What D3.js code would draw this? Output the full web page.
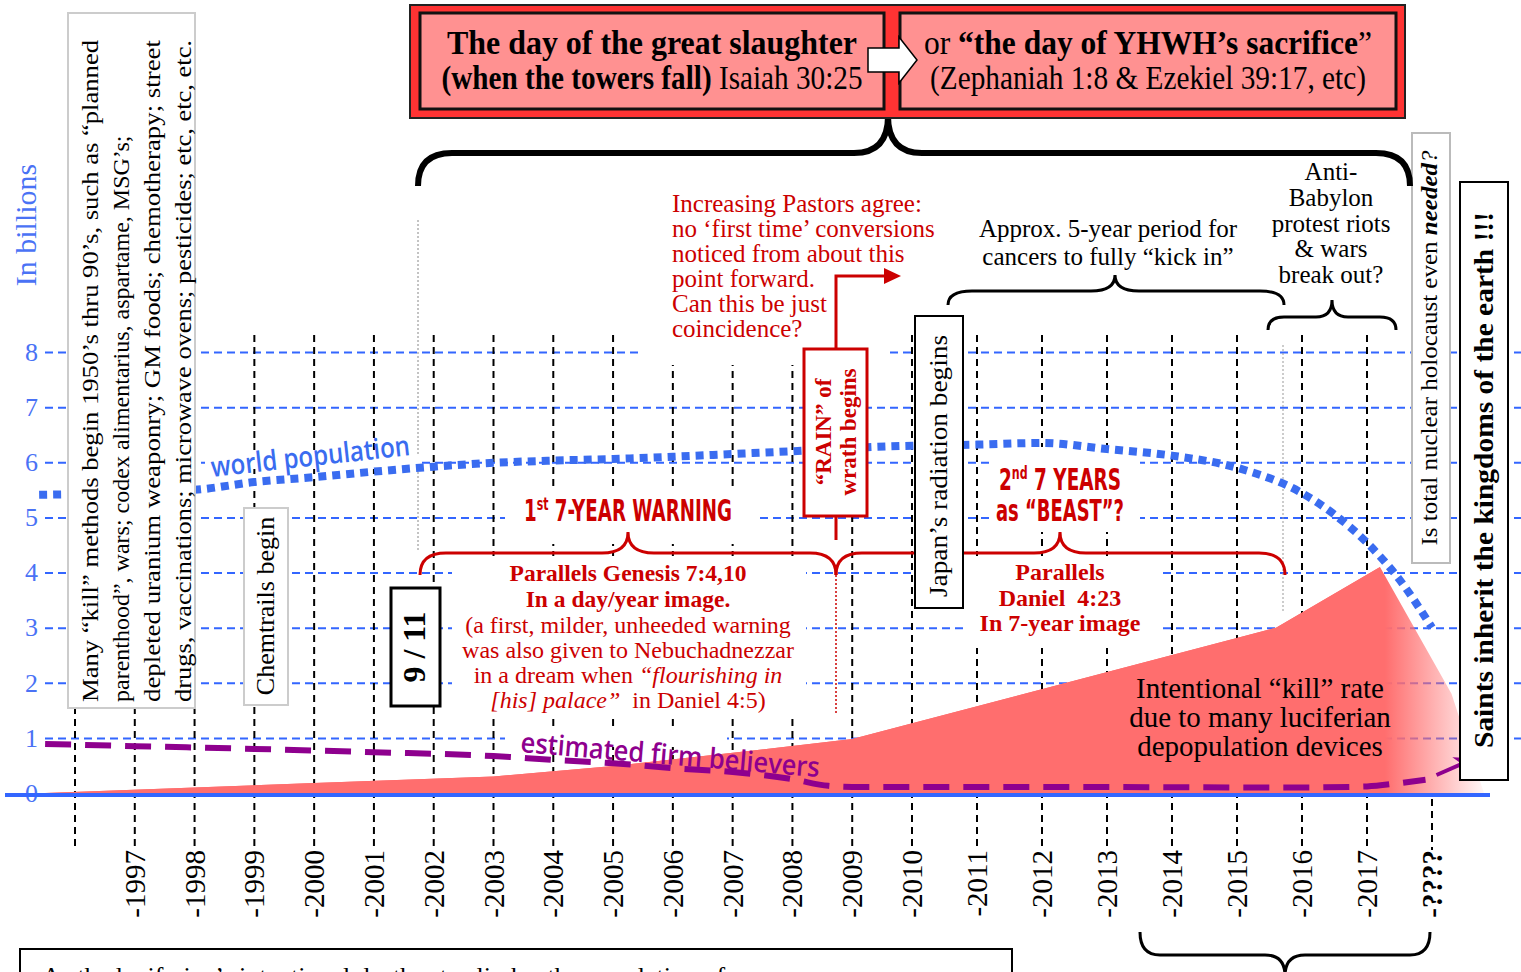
<!DOCTYPE html>
<html>
<head>
<meta charset="utf-8">
<script src="https://cdn.jsdelivr.net/npm/d3@7"></script>
<style>
  body { margin: 0; background: #fff; }
  svg { display: block; font-family: "Liberation Serif", "Times New Roman", serif; }
</style>
</head>
<body>
<div id="chart"></div>
<script>
// ---- data ----
const yearTicks = [1996, 1997, 1998, 1999, 2000, 2001, 2002, 2003, 2004, 2005, 2006, 2007,
  2008, 2009, 2010, 2011, 2012, 2013, 2014, 2015, 2016, 2017, 2018];
const yearLabels = ["", "1997", "1998", "1999", "2000", "2001", "2002", "2003", "2004", "2005", "2006", "2007",
  "2008", "2009", "2010", "2011", "2012", "2013", "2014", "2015", "2016", "2017", "????"];
const valueTicks = [0, 1, 2, 3, 4, 5, 6, 7, 8];

// world population (billions)
const popYears = [1995.4, 1998, 1999, 2000, 2001, 2002, 2003, 2004, 2005, 2006, 2007, 2008, 2009,
  2010, 2011, 2012, 2013, 2014, 2015, 2016, 2016.5, 2017, 2017.5, 2018];
const popValues = [5.41, 5.5, 5.64, 5.73, 5.83, 5.92, 5.99, 6.03, 6.06, 6.1, 6.15, 6.2, 6.26,
  6.3, 6.32, 6.35, 6.24, 6.12, 5.9, 5.44, 5.05, 4.54, 3.87, 3.0];

// estimated firm believers (billions)
const believerYears = [1995.5, 1997, 1999, 2001, 2003, 2004, 2005, 2006, 2007, 2008, 2008.6, 2009,
  2012, 2016, 2017, 2017.5, 2017.9];
const believerValues = [0.89, 0.85, 0.8, 0.74, 0.67, 0.6, 0.54, 0.45, 0.38, 0.25, 0.13, 0.11,
  0.11, 0.1, 0.12, 0.18, 0.24];
const believerArrow = [[2017.9, 0.24], [2018.6, 0.6]];

// intentional "kill" rate (billions)
const killYears = [1995.5, 2000, 2003, 2005, 2007, 2009, 2015.6, 2017.2, 2018.3, 2018.8];
const killValues = [0, 0.18, 0.3, 0.49, 0.73, 0.98, 3.0, 4.1, 1.8, 0];

// ---- setup ----
const W = 1521, H = 972;
const BLUE = "#3366ff", RED = "#cc0000", PURPLE = "#8e008e";
const SANS = "'Open Sans', 'DejaVu Sans', sans-serif";
const NARROW = "'Liberation Sans Narrow', 'DejaVu Sans Condensed', sans-serif";

const svg = d3.select("#chart").append("svg").attr("width", W).attr("height", H);

const x = d3.scaleLinear().domain([1996, 2010, 2018]).range([75, 912, 1432]);
const y = d3.scaleLinear().domain([0, 8]).range([793, 352]);

const defs = svg.append("defs");
const grad = defs.append("linearGradient").attr("id", "killFade")
  .attr("gradientUnits", "userSpaceOnUse")
  .attr("x1", 1385).attr("x2", 1490).attr("y1", 0).attr("y2", 0);
grad.append("stop").attr("offset", 0).attr("stop-color", "#ff6e6e").attr("stop-opacity", 1);
grad.append("stop").attr("offset", 1).attr("stop-color", "#ff6e6e").attr("stop-opacity", 0);
defs.append("marker").attr("id", "purpleHead")
  .attr("viewBox", "0 0 10 10").attr("refX", 8).attr("refY", 5)
  .attr("markerWidth", 5).attr("markerHeight", 5).attr("orient", "auto")
  .append("path").attr("d", "M0,0 L10,5 L0,10 L3,5 Z").attr("fill", PURPLE);

function whiteRect(x0, y0, w, h) {
  svg.append("rect").attr("x", x0).attr("y", y0).attr("width", w).attr("height", h).attr("fill", "#fff");
}
function box(x0, y0, w, h, stroke, sw) {
  svg.append("rect").attr("x", x0).attr("y", y0).attr("width", w).attr("height", h)
    .attr("fill", "#fff").attr("stroke", stroke).attr("stroke-width", sw);
}
// vertical text, reading bottom to top
function vtext(cx, cy, fs, str, opts = {}) {
  const t = svg.append("text")
    .attr("transform", `translate(${cx + fs * 0.34},${cy}) rotate(-90)`)
    .attr("text-anchor", opts.anchor || "middle")
    .attr("font-size", fs)
    .attr("fill", opts.fill || "#000")
    .attr("font-weight", opts.bold ? "bold" : null);
  if (opts.len) t.attr("textLength", opts.len).attr("lengthAdjust", "spacingAndGlyphs");
  if (str) t.text(str);
  return t;
}
function lines(cx, y0, dy, fs, arr, opts = {}) {
  arr.forEach((s, i) => {
    svg.append("text").attr("x", cx).attr("y", y0 + i * dy)
      .attr("text-anchor", opts.anchor || "middle").attr("font-size", fs)
      .attr("fill", opts.fill || "#000")
      .attr("font-weight", opts.bold ? "bold" : null)
      .text(s);
  });
}
// curly brace; tip toward yTip
function brace(x1, x2, xm, yEnd, yMid, yTip, r, color, sw) {
  const d = `M${x1},${yEnd} Q${x1},${yMid} ${x1 + r},${yMid} L${xm - r},${yMid} Q${xm},${yMid} ${xm},${yTip}` +
    ` Q${xm},${yMid} ${xm + r},${yMid} L${x2 - r},${yMid} Q${x2},${yMid} ${x2},${yEnd}`;
  svg.append("path").attr("d", d).attr("fill", "none").attr("stroke", color).attr("stroke-width", sw);
}

// ---- grid ----
svg.append("g").attr("transform", "translate(45,0)")
  .call(d3.axisLeft(y).tickValues(valueTicks.slice(1)).tickSize(-(W - 45)).tickFormat(""))
  .call(g => g.select(".domain").remove())
  .selectAll("line").attr("stroke", BLUE).attr("stroke-width", 2).attr("stroke-dasharray", "8,5");

svg.append("g").attr("transform", "translate(38,0)")
  .call(d3.axisLeft(y).tickValues(valueTicks).tickSize(0).tickPadding(0))
  .call(g => g.select(".domain").remove())
  .call(g => g.attr("font-family", null).attr("font-size", 26))
  .selectAll("text").attr("fill", "#4a72f5");

const ticks = yearTicks.map((d, i) => ({ year: d, label: yearLabels[i] }));
svg.append("g").selectAll("line").data(ticks).join("line")
  .attr("x1", d => x(d.year)).attr("x2", d => x(d.year))
  .attr("y1", d => d.label === "????" ? y(0) + 6 : 335)
  .attr("y2", 850)
  .attr("stroke", "#000").attr("stroke-width", 2).attr("stroke-dasharray", "7,5");

svg.append("g").selectAll("text").data(ticks.filter(d => d.label)).join("text")
  .attr("transform", d => `translate(${x(d.year) + 10},850) rotate(-90)`)
  .attr("text-anchor", "end")
  .attr("font-size", 29)
  .attr("font-weight", d => d.label === "????" ? "bold" : null)
  .text(d => "-" + d.label);

// thin dotted markers
svg.append("line").attr("x1", 418).attr("x2", 418).attr("y1", 220).attr("y2", 550)
  .attr("stroke", "#888").attr("stroke-width", 1).attr("stroke-dasharray", "2,2");
svg.append("line").attr("x1", 1283).attr("x2", 1283).attr("y1", 345).attr("y2", 612)
  .attr("stroke", "#999").attr("stroke-width", 1).attr("stroke-dasharray", "2,2");

// white gaps behind annotations
whiteRect(640, 185, 245, 180);   // pastors note
whiteRect(505, 488, 252, 56);    // 1st 7-year warning
whiteRect(452, 556, 354, 160);   // Genesis note
whiteRect(965, 556, 195, 92);    // Daniel note
whiteRect(990, 447, 150, 85);    // 2nd 7 years
whiteRect(205, 455, 215, 14);    // world population label
whiteRect(505, 729, 222, 18);    // believers label

svg.append("line").attr("x1", 836).attr("x2", 836).attr("y1", 575).attr("y2", 715)
  .attr("stroke", RED).attr("stroke-width", 1.5).attr("stroke-dasharray", "2,2");

// ---- kill-rate area ----
const killData = killYears.map((d, i) => [d, killValues[i]]);
const killArea = d3.area().x(d => x(d[0])).y0(y(0)).y1(d => y(d[1]));
svg.append("path").datum(killData).attr("d", killArea).attr("fill", "url(#killFade)");
svg.append("path").datum(killData.filter(d => d[0] <= 2017.2).concat([[2017.2, 0]]))
  .attr("d", killArea).attr("fill", "#ff6e6e");

// baseline
svg.append("line").attr("x1", 5).attr("x2", 1490).attr("y1", y(0) + 2).attr("y2", y(0) + 2)
  .attr("stroke", BLUE).attr("stroke-width", 4);

// ---- world population ----
const popData = popYears.map((d, i) => [d, popValues[i]]);
svg.append("path").datum(popData)
  .attr("d", d3.line().x(d => x(d[0])).y(d => y(d[1])).curve(d3.curveMonotoneX))
  .attr("fill", "none").attr("stroke", "#3a6cf0").attr("stroke-width", 8)
  .attr("stroke-dasharray", "8,6");

// ---- believers ----
const belData = believerYears.map((d, i) => [d, believerValues[i]]);
svg.append("path").datum(belData)
  .attr("d", d3.line().x(d => x(d[0])).y(d => y(d[1])).curve(d3.curveMonotoneX))
  .attr("fill", "none").attr("stroke", PURPLE).attr("stroke-width", 6)
  .attr("stroke-dasharray", "26,14");
svg.append("path").datum(believerArrow)
  .attr("d", d3.line().x(d => x(d[0])).y(d => y(d[1])))
  .attr("fill", "none").attr("stroke", PURPLE).attr("stroke-width", 4)
  .attr("stroke-dasharray", "0,12,30")
  .attr("marker-end", "url(#purpleHead)");

// ---- series labels ----
svg.append("text").attr("transform", "translate(212,477) rotate(-6.3)")
  .style("font-family", SANS).attr("font-weight", 600)
  .attr("font-size", 28).attr("fill", "#3a6cf0")
  .attr("textLength", 200).attr("lengthAdjust", "spacingAndGlyphs")
  .text("world population");
svg.append("text").attr("transform", "translate(520,752) rotate(4.8)")
  .style("font-family", SANS).attr("font-weight", 600)
  .attr("font-size", 28).attr("fill", PURPLE)
  .attr("textLength", 300).attr("lengthAdjust", "spacingAndGlyphs")
  .text("estimated firm believers");

lines(1260, 698, 29, 29, ["Intentional \u201ckill\u201d rate", "due to many luciferian", "depopulation devices"]);

// ---- red braces (behind boxes) ----
brace(420, 836, 628, 575, 553, 532, 26, RED, 3);
brace(836, 1285, 1060, 575, 553, 532, 26, RED, 3);

// ---- boxes with vertical text ----
box(68, 13, 127, 695, "#cccccc", 2);
const leftLines = [
  ["Many \u201ckill\u201d methods begin 1950\u2019s thru 90\u2019s, such as \u201cplanned", 662],
  ["parenthood\u201d, wars; codex alimentarius, aspartame, MSG\u2019s;", 0],
  ["depleted uranium weaponry; GM foods; chemotherapy;  street", 662],
  ["drugs, vaccinations; microwave ovens; pesticides; etc, etc, etc.", 662]
];
leftLines.forEach((l, i) => {
  vtext(90 + i * 31, 702, 24, l[0], { anchor: "start", len: l[1] || null });
});

box(244, 508, 44, 197, "#cccccc", 2);
vtext(265, 606, 26, "Chemtrails begin");

box(391, 588, 49, 118, "#000", 3);
vtext(414, 647, 32, "9 / 11", { bold: true });

// pastors arrow
svg.append("path").attr("d", "M836,540 L836,276 L886,276")
  .attr("fill", "none").attr("stroke", RED).attr("stroke-width", 3);
svg.append("path").attr("d", "M884,268 L901,276 L884,284 Z").attr("fill", RED);

box(804, 349, 63, 167, RED, 3);
vtext(823, 432, 23, "\u201cRAIN\u201d of", { bold: true, fill: RED });
vtext(848, 432, 23, "wrath begins", { bold: true, fill: RED });

box(915, 316, 48, 292, "#000", 2);
vtext(938, 466, 26, "Japan\u2019s  radiation begins", { len: 262 });

box(1412, 133, 38, 430, "#bbbbbb", 2);
const nuc = vtext(1429, 348, 23, null, { len: 395 });
nuc.append("tspan").text("Is total nuclear holocaust even ");
nuc.append("tspan").attr("font-weight", "bold").attr("font-style", "italic").text("needed");
nuc.append("tspan").attr("font-style", "italic").text("?");

box(1460, 182, 48, 598, "#000", 2);
vtext(1483, 480, 28, "Saints inherit the kingdoms of the earth !!!", { bold: true, len: 536 });

// ---- red annotations ----
lines(672, 212, 25, 25, [
  "Increasing Pastors agree:",
  "no \u2018first time\u2019 conversions",
  "noticed from about this",
  "point forward.",
  "Can this be just",
  "coincidence?"
], { anchor: "start", fill: RED });

const w1 = svg.append("text").attr("x", 628).attr("y", 521).attr("text-anchor", "middle")
  .style("font-family", NARROW).attr("font-weight", "bold").attr("font-size", 30).attr("fill", RED)
  .attr("textLength", 208).attr("lengthAdjust", "spacingAndGlyphs");
w1.append("tspan").text("1");
w1.append("tspan").attr("font-size", 18).attr("dy", -11).text("st");
w1.append("tspan").attr("dy", 11).text(" 7-YEAR WARNING");

const w2 = svg.append("text").attr("x", 1060).attr("y", 490).attr("text-anchor", "middle")
  .style("font-family", NARROW).attr("font-weight", "bold").attr("font-size", 30).attr("fill", RED)
  .attr("textLength", 122).attr("lengthAdjust", "spacingAndGlyphs");
w2.append("tspan").text("2");
w2.append("tspan").attr("font-size", 18).attr("dy", -11).text("nd");
w2.append("tspan").attr("dy", 11).text(" 7 YEARS");
svg.append("text").attr("x", 1060).attr("y", 521).attr("text-anchor", "middle")
  .style("font-family", NARROW).attr("font-weight", "bold").attr("font-size", 30).attr("fill", RED)
  .attr("textLength", 128).attr("lengthAdjust", "spacingAndGlyphs")
  .text("as \u201cBEAST\u201d?");

lines(628, 581, 25.5, 23.5, ["Parallels Genesis 7:4,10", "In a day/year image."], { bold: true, fill: RED });
lines(628, 633, 25, 24, ["(a first, milder, unheeded warning", "was also given to Nebuchadnezzar"], { fill: RED });
const g5 = svg.append("text").attr("x", 628).attr("y", 683).attr("text-anchor", "middle")
  .attr("font-size", 24).attr("fill", RED);
g5.append("tspan").text("in a dream when ");
g5.append("tspan").attr("font-style", "italic").text("\u201cflourishing in");
const g6 = svg.append("text").attr("x", 628).attr("y", 708).attr("text-anchor", "middle")
  .attr("font-size", 24).attr("fill", RED);
g6.append("tspan").attr("font-style", "italic").text("[his] palace\u201d");
g6.append("tspan").text("\u00a0 in Daniel 4:5)");

lines(1060, 580, 25.5, 24, ["Parallels", "Daniel\u00a0 4:23", "In 7-year image"], { bold: true, fill: RED });

// ---- black annotations ----
lines(1108, 237, 28, 25, ["Approx. 5-year period for", "cancers to fully \u201ckick in\u201d"]);
brace(948, 1284, 1115, 305, 291, 275, 24, "#000", 3);

lines(1331, 180, 25.8, 25, ["Anti-", "Babylon", "protest riots", "& wars", "break out?"]);
brace(1268, 1396, 1332, 330, 317, 300, 16, "#000", 3);

brace(1140, 1430, 1285, 932, 955, 976, 20, "#000", 3);

// y title
vtext(26, 225, 30, "In billions", { fill: "#4a72f5" });

// bottom text box
svg.append("rect").attr("x", 20).attr("y", 949).attr("width", 992).attr("height", 60)
  .attr("fill", "#fff").attr("stroke", "#000").attr("stroke-width", 2);
svg.append("text").attr("x", 42).attr("y", 985).attr("font-size", 26)
  .text("As the luciferian\u2019s intentional death rate climbs, the population of course");

// ---- header ----
brace(418, 1410, 888, 186, 153, 116, 34, "#000", 6);

svg.append("rect").attr("x", 410).attr("y", 5).attr("width", 995).attr("height", 113)
  .attr("fill", "#ff3333").attr("stroke", "#222").attr("stroke-width", 2);
svg.append("rect").attr("x", 420).attr("y", 13).attr("width", 464).attr("height", 96)
  .attr("fill", "#ff9191").attr("stroke", "#111").attr("stroke-width", 3);
svg.append("rect").attr("x", 900).attr("y", 13).attr("width", 496).attr("height", 96)
  .attr("fill", "#ff9191").attr("stroke", "#111").attr("stroke-width", 3);
svg.append("path").attr("d", "M868,48 L899,48 L899,37 L917,60 L899,83 L899,72 L868,72 Z")
  .attr("fill", "#fff").attr("stroke", "#000").attr("stroke-width", 1.5);

function hdr(cx, yy, len, parts) {
  const t = svg.append("text").attr("x", cx).attr("y", yy).attr("text-anchor", "middle")
    .attr("font-size", 33).attr("textLength", len).attr("lengthAdjust", "spacingAndGlyphs");
  parts.forEach(p => t.append("tspan").attr("font-weight", p[1] ? "bold" : "normal").text(p[0]));
}
hdr(652, 54, 410, [["The day of the great slaughter", true]]);
hdr(652, 89, 421, [["(when the towers fall) ", true], ["Isaiah 30:25", false]]);
hdr(1148, 54, 448, [["or ", false], ["\u201cthe day of YHWH\u2019s sacrifice", true], ["\u201d", false]]);
hdr(1148, 89, 436, [["(Zephaniah 1:8 & Ezekiel 39:17, etc)", false]]);
</script>
</body>
</html>
